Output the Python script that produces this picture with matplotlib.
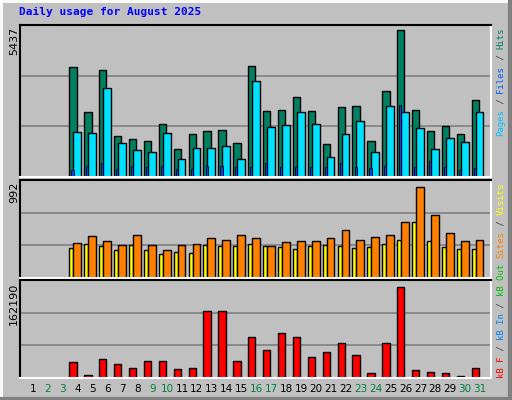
import matplotlib
matplotlib.use("Agg")
import matplotlib.pyplot as plt
import numpy as np

days = np.arange(1, 32)
weekend = [2, 3, 9, 10, 16, 17, 23, 24, 30, 31]
hits = [0, 0, 0, 3970, 2352, 3862, 1489, 1381, 1309, 1920, 1021, 1561, 1669, 1704, 1237, 4006,
        2388, 2424, 2891, 2388, 1201, 2532, 2568, 1309, 3107, 5300, 2424, 1669, 1848, 1561, 2783]
files = [0, 0, 0, 1632, 1597, 3215, 1237, 985, 913, 1597, 662, 1057, 1057, 1129, 662, 3467,
         1812, 1884, 2352, 1920, 734, 1561, 2028, 913, 2568, 2352, 1776, 1021, 1417, 1273, 2352]
pages = [0, 0, 0, 266, 410, 500, 302, 410, 374, 410, 302, 302, 410, 410, 374, 374,
         518, 374, 374, 374, 374, 500, 374, 338, 410, 2603, 374, 590, 374, 266, 338]
visits = [0, 0, 0, 303, 343, 323, 283, 333, 283, 243, 263, 253, 333, 323, 323, 343,
          323, 313, 293, 323, 333, 323, 303, 313, 343, 383, 563, 373, 313, 293, 293]
sites = [0, 0, 0, 353, 423, 373, 333, 433, 333, 283, 333, 343, 403, 383, 433, 403,
         323, 363, 373, 373, 403, 483, 383, 413, 433, 563, 923, 633, 453, 373, 383]
kbytes = [0, 0, 0, 27000, 5500, 32000, 23700, 17000, 28600, 28600, 15400, 17000, 111400, 111400, 28600, 68400,
          46800, 75000, 68400, 35300, 43500, 58400, 38600, 8800, 58400, 151100, 13700, 10400, 8800, 3800, 17000]

W, H = 512, 400
BG = "#C0C0C0"
fig = plt.figure(figsize=(W / 100, H / 100), dpi=100, facecolor=BG)

def fx(x): return x / W
def fy(y): return 1 - y / H

# 3D border
fig.add_artist(plt.Line2D([fx(1), fx(1)], [fy(0), fy(399)], color="white", lw=2))
fig.add_artist(plt.Line2D([fx(0), fx(511)], [fy(1), fy(1)], color="white", lw=2))
fig.add_artist(plt.Line2D([fx(510), fx(510)], [fy(0), fy(400)], color="#808080", lw=3))
fig.add_artist(plt.Line2D([fx(0), fx(512)], [fy(398.5), fy(398.5)], color="#808080", lw=3))

c0, step = 33.0, 14.9
xl = ((20 - c0) / step + 1, (491 - c0) / step + 1)

def mkax(top, bot):
    ax = fig.add_axes([fx(20), fy(bot), fx(491) - fx(20), (bot - top) / H])
    ax.set_facecolor(BG)
    ax.set_xlim(*xl)
    ax.set_xticks([]); ax.set_yticks([])
    for s in ("left", "top"):
        ax.spines[s].set_color("black")
    for s in ("right", "bottom"):
        ax.spines[s].set_color("white")
    for s in ax.spines.values():
        s.set_linewidth(1.5)
    return ax

def grid(ax, top):
    for g in (top / 3, 2 * top / 3):
        ax.axhline(g, color="#808080", lw=1.2, zorder=0)

ek = dict(align="edge", edgecolor="black", linewidth=1, zorder=2)

ax1 = mkax(25, 177)
t1 = 5437 * 152 / 151.2
ax1.set_ylim(0, t1); grid(ax1, t1)
ax1.bar(days - 0.56, hits, 0.49, color="#008060", **ek)
ax1.bar(days - 0.29, files, 0.52, color="#00E0FF", **ek)
ax1.bar(days - 0.42, pages, 0.14, color="#0040FF", **{**ek, "linewidth": 0.6})

ax2 = mkax(180, 278)
ax2.set_ylim(0, 990); grid(ax2, 990)
ax2.bar(days - 0.56, visits, 0.27, color="#FFFF00", **ek)
ax2.bar(days - 0.29, sites, 0.52, color="#FF8000", **ek)

ax3 = mkax(280, 378)
ax3.set_ylim(0, 162190); grid(ax3, 162190)
ax3.bar(days - 0.56, kbytes, 0.49, color="#FF0000", **ek)

# day labels
for d in days:
    fig.text(fx(c0 + (d - 1) * step), fy(389), str(d), ha="center", va="center", fontsize=7.5,
             color="#008040" if d in weekend else "black", family="DejaVu Sans")

fig.text(fx(19), fy(12), "Daily usage for August 2025", color="#0000FF", fontsize=8,
         weight="bold", family="DejaVu Sans Mono", va="center", ha="left")

for y, lab in ((27, "5437"), (182, "992"), (283, "162190")):
    fig.text(fx(14), fy(y), lab, rotation=90, ha="center", va="top", fontsize=8, family="DejaVu Sans")

fs = 6.5
cw = fs * 100 / 72 * 0.602

def stack(ybot, pieces):
    y = ybot
    for txt, col in pieces:
        fig.text(fx(501), fy(y), txt, rotation=90, ha="center", va="bottom", fontsize=fs,
                 family="DejaVu Sans Mono", color=col)
        y -= len(txt) * cw

stack(136, [("Pages", "#00C0FF"), (" / ", "#404040"), ("Files", "#0060FF"),
            (" / ", "#404040"), ("Hits", "#008060")])
stack(378, [("kB F", "#FF0000"), (" / ", "#404040"), ("kB In", "#0080FF"), (" / ", "#404040"),
            ("kB Out", "#00C000"), (" ", "#404040"), ("Sites", "#FF8000"), (" / ", "#404040"),
            ("Visits", "#FFFF00")])

fig.savefig("out.png", dpi=100, facecolor=BG)
